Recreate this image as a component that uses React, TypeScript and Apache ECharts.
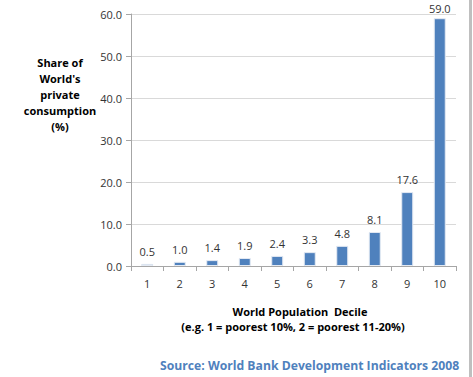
import React, { useEffect, useRef } from "react";
import * as echarts from "echarts";

const categories = ["1", "2", "3", "4", "5", "6", "7", "8", "9", "10"];
const shares = [0.5, 1.0, 1.4, 1.9, 2.4, 3.3, 4.8, 8.1, 17.6, 59.0];
const yTicks = [0, 10, 20, 30, 40, 50, 60];

export default function App() {
  const ref = useRef<HTMLDivElement>(null);
  useEffect(() => {
    const chart = echarts.init(ref.current!, null, { renderer: "svg" });
    const font = "'Open Sans', 'Noto Sans', sans-serif";
    const yMax = yTicks[yTicks.length - 1];
    chart.setOption({
      animation: false,
      textStyle: { fontFamily: font },
      grid: { left: 131, right: 17, top: 14, bottom: 111, containLabel: false },
      xAxis: {
        type: "category",
        data: categories,
        axisLine: { lineStyle: { color: "#A6A6A6" } },
        axisTick: { show: true, alignWithLabel: false, length: 5, lineStyle: { color: "#A6A6A6" } },
        axisLabel: { color: "#333", fontSize: 11, margin: 12, fontFamily: font },
      },
      yAxis: {
        type: "value",
        min: yTicks[0],
        max: yMax,
        interval: 10,
        axisLine: { show: true, lineStyle: { color: "#A6A6A6" } },
        axisTick: { show: true, length: 5, inside: false, lineStyle: { color: "#A6A6A6" } },
        splitLine: { lineStyle: { color: "#D9D9D9" } },
        axisLabel: {
          color: "#333",
          fontSize: 11,
          margin: 9,
          fontFamily: font,
          formatter: (v: number) => v.toFixed(1),
        },
      },
      series: [
        {
          type: "bar",
          data: shares.map((v) =>
            v > yMax - 5 ? { value: v, label: { distance: 4 } } : v
          ),
          barWidth: 12,
          itemStyle: {
            color: "#4F81BD",
            borderColor: "#E4EAF3",
            borderWidth: 1,
          },
          label: {
            show: true,
            position: "top",
            distance: 7,
            color: "#333",
            fontSize: 11,
            fontFamily: font,
            formatter: (p: any) => Number(p.value).toFixed(1),
          },
        },
      ],
      graphic: [
        {
          type: "text",
          x: 60,
          y: 54,
          style: {
            text: "Share of\nWorld's\nprivate\nconsumption\n(%)",
            fill: "#000",
            font: `bold 11px ${font}`,
            align: "center",
            verticalAlign: "top",
            lineHeight: 16,
          },
        },
        {
          type: "text",
          x: 300,
          y: 306,
          style: {
            text: "World Population  Decile",
            fill: "#000",
            font: `bold 11px ${font}`,
            align: "center",
          },
        },
        {
          type: "text",
          x: 293,
          y: 321,
          style: {
            text: "(e.g. 1 = poorest 10%, 2 = poorest 11-20%)",
            fill: "#000",
            font: `bold 11px ${font}`,
            align: "center",
          },
        },
        {
          type: "text",
          x: 160,
          y: 359,
          style: {
            text: "Source: World Bank Development Indicators 2008",
            fill: "#4F81BD",
            font: `bold 12.2px ${font}`,
          },
        },
        {
          type: "rect",
          shape: { x: 469, y: 0, width: 3, height: 377 },
          style: { fill: "#BFBFBF" },
        },
      ],
    });
    return () => chart.dispose();
  }, []);
  return <div ref={ref} style={{ width: 473, height: 377, position: "absolute", left: 0, top: 0 }} />;
}
